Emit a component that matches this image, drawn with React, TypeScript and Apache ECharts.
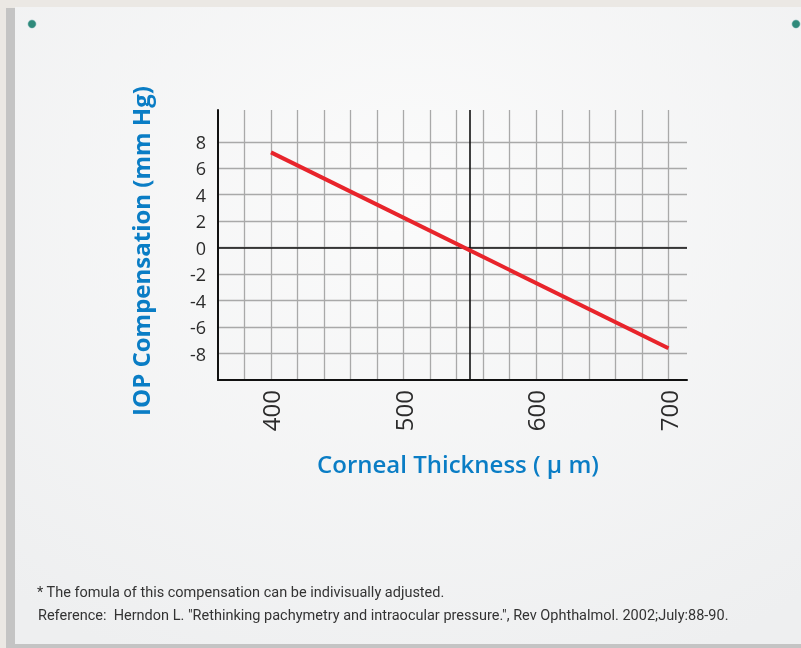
import React, { useEffect, useRef } from "react";
import * as echarts from "echarts";

const thickness: number[] = [400, 700];
const compensation: number[] = [7.2, -7.6];
const xLabelValues: number[] = [400, 500, 600, 700];
const yLabelValues: number[] = [8, 6, 4, 2, 0, -2, -4, -6, -8];
const yTitle = "IOP Compensation (mm Hg)";
const xTitle = "Corneal Thickness ( \u03bc m)";
const footnote1 = "* The fomula of this compensation can be indivisually adjusted.";
const footnote2 =
  'Reference:  Herndon L. "Rethinking pachymetry and intraocular pressure.", Rev Ophthalmol. 2002;July:88-90.';

const GRID = "#a9a9a9";
const BLUE = "#0a7dc5";

export default function App() {
  const ref = useRef<HTMLDivElement>(null);
  useEffect(() => {
    if (!ref.current) return;
    const chart = echarts.init(ref.current, null, { renderer: "svg" });
    const xColors: string[] = [];
    for (let i = 0; i < 19; i++) xColors.push(i === 0 || i >= 18 ? "rgba(0,0,0,0)" : GRID);
    const yColors: string[] = [];
    for (let i = 0; i < 12; i++) yColors.push(i === 0 || i >= 10 ? "rgba(0,0,0,0)" : GRID);
    chart.setOption({
      animation: false,
      graphic: [
        { type: "rect", z: -10, silent: true, shape: { x: 0, y: 0, width: 801, height: 648 }, style: { fill: "#ebe8e4" } },
        { type: "rect", z: -9, silent: true, shape: { x: 6, y: 8, width: 800, height: 640 }, style: { fill: "#c4c4c4" } },
        {
          type: "rect",
          z: -8,
          silent: true,
          shape: { x: 15, y: 7, width: 790, height: 637 },
          style: {
            fill: new echarts.graphic.RadialGradient(0.5, 0.3, 0.8, [
              { offset: 0, color: "#fbfbfb" },
              { offset: 1, color: "#eeeff0" },
            ]),
          },
        },
        { type: "circle", z: -7, silent: true, shape: { cx: 32, cy: 24, r: 4 }, style: { fill: "#2f8a7a", stroke: "#6aa", lineWidth: 0.5 } },
        { type: "circle", z: -7, silent: true, shape: { cx: 796, cy: 24, r: 4 }, style: { fill: "#2f8a7a", stroke: "#6aa", lineWidth: 0.5 } },
        {
          type: "text",
          x: 140,
          y: 251,
          rotation: Math.PI / 2,
          style: {
            text: yTitle,
            fill: BLUE,
            font: "bold 24px 'Open Sans', sans-serif",
            align: "center",
            verticalAlign: "middle",
          },
        },
        {
          type: "text",
          x: 458,
          y: 463,
          style: {
            text: xTitle,
            fill: BLUE,
            font: "600 24px 'Open Sans', sans-serif",
            align: "center",
            verticalAlign: "middle",
          },
        },
        {
          type: "text",
          x: 37,
          y: 592,
          style: {
            text: footnote1,
            fill: "#333",
            font: "14.5px Roboto, sans-serif",
            verticalAlign: "middle",
          },
        },
        {
          type: "text",
          x: 38,
          y: 615,
          style: {
            text: footnote2,
            fill: "#333",
            font: "14.5px Roboto, sans-serif",
            verticalAlign: "middle",
          },
        },
      ],
      grid: { left: 218, top: 110, right: 114, bottom: 268, containLabel: false },
      xAxis: {
        type: "value",
        min: 360,
        max: 714,
        interval: 20,
        axisLine: { show: true, onZero: false, lineStyle: { color: "#111", width: 2 } },
        axisTick: { show: false },
        axisLabel: {
          rotate: 90,
          margin: 10,
          color: "#2b2b2b",
          fontSize: 24,
          fontFamily: "'Open Sans', sans-serif",
          formatter: (v: number) => (xLabelValues.indexOf(v) >= 0 ? String(v) : ""),
        },
        splitLine: { show: true, lineStyle: { color: xColors, width: 1.3 } },
      },
      yAxis: {
        type: "value",
        min: -10,
        max: 10.4,
        interval: 2,
        axisLine: { show: true, onZero: false, lineStyle: { color: "#111", width: 2 } },
        axisTick: { show: false },
        axisLabel: {
          margin: 12,
          color: "#2b2b2b",
          fontSize: 18,
          fontFamily: "'Open Sans', sans-serif",
          formatter: (v: number) => (yLabelValues.indexOf(v) >= 0 ? String(v) : ""),
        },
        splitLine: { show: true, lineStyle: { color: yColors, width: 1.3 } },
      },
      series: [
        {
          type: "line",
          data: thickness.map((t, i) => [t, compensation[i]]),
          showSymbol: false,
          symbol: "none",
          lineStyle: { color: "#e8242b", width: 4 },
          z: 5,
          markLine: {
            silent: true,
            symbol: "none",
            label: { show: false },
            lineStyle: { color: "#111", width: 1.6, type: "solid" },
            data: [{ yAxis: 0 }, { xAxis: 550 }],
          },
        },
      ],
    });
    return () => chart.dispose();
  }, []);
  return (
    <div
      ref={ref}
      style={{ position: "fixed", left: 0, top: 0, width: 801, height: 648 }}
    />
  );
}
